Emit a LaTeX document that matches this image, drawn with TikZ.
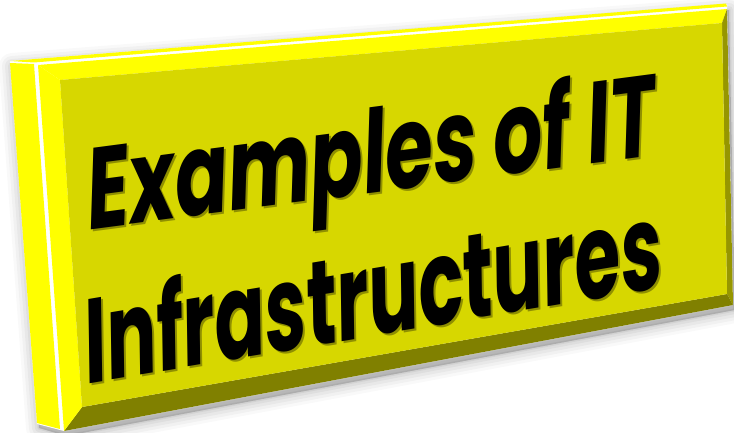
\documentclass[tikz,border=0pt]{standalone}
\usepackage{fontspec}
\setmainfont{Poppins}
\newfontfamily\titlefont{Poppins}[FakeSlant=0.24]
\usepackage{graphicx}
\definecolor{brightyel}{RGB}{255,255,0}
\definecolor{faceyel}{RGB}{215,215,0}
\definecolor{rightbev}{RGB}{150,150,0}
\definecolor{botbev}{RGB}{128,128,0}
\definecolor{txtshadow}{RGB}{95,95,0}
\tikzset{
  titletext/.style={anchor=base, inner sep=0pt, text=black},
  shadowtext/.style={anchor=base, inner sep=0pt, text=txtshadow, opacity=0.6},
}
\newcommand{\lineone}{\resizebox{573pt}{90pt}{\titlefont\bfseries Examples of IT}}
\newcommand{\linetwo}{\resizebox{585pt}{93pt}{\titlefont\bfseries Infrastructures}}
\begin{document}
\begin{tikzpicture}[x=1pt,y=-1pt]
\useasboundingbox (0,0) rectangle (734,433);
\fill[white] (0,0) rectangle (734,433);
% soft shadow
\foreach \w/\o in {26/0.025,20/0.03,14/0.035,8/0.04,3/0.05}{
  \draw[black, opacity=\o, line width=\w pt, line join=round, fill=black, fill opacity=\o]
    (12,66) -- (729,10) -- (735,310) -- (66,436) -- (39,428) -- cycle;
}
% white base of the block
\fill[white] (10,61) -- (727,4) -- (733,305) -- (64,431) -- (37,424) -- cycle;
% top face (thin)
\fill[brightyel] (10,61) -- (726,3.5) -- (727,6.5) -- (34,62.5) -- cycle;
% left side face
\fill[brightyel] (10,63) -- (34,64) -- (60,429) -- (37,423) -- cycle;
% front bevels
\coordinate (o1) at (38,65);
\coordinate (o2) at (727,9);
\coordinate (o3) at (733,305);
\coordinate (o4) at (64,431);
\coordinate (i1) at (60,80);
\coordinate (i2) at (722,23);
\coordinate (i3) at (727,294);
\coordinate (i4) at (82,407);
\fill[brightyel] (o1) -- (o2) -- (i2) -- (i1) -- cycle;
\fill[rightbev] (o2) -- (o3) -- (i3) -- (i2) -- cycle;
\fill[botbev] (o3) -- (o4) -- (i4) -- (i3) -- cycle;
\fill[brightyel] (o4) -- (o1) -- (i1) -- (i4) -- cycle;
\fill[faceyel] (i1) -- (i2) -- (i3) -- (i4) -- cycle;
% text shadows
\node[shadowtext, rotate=7.5] (l1s) at (373,195) {\lineone};
\node[shadowtext, rotate=9.5] (l2s) at (376,338) {\linetwo};
% text
\node[titletext, rotate=7.5] (l1) at (371,193) {\lineone};
\node[titletext, rotate=9.5] (l2) at (374,336) {\linetwo};
\end{tikzpicture}
\end{document}
